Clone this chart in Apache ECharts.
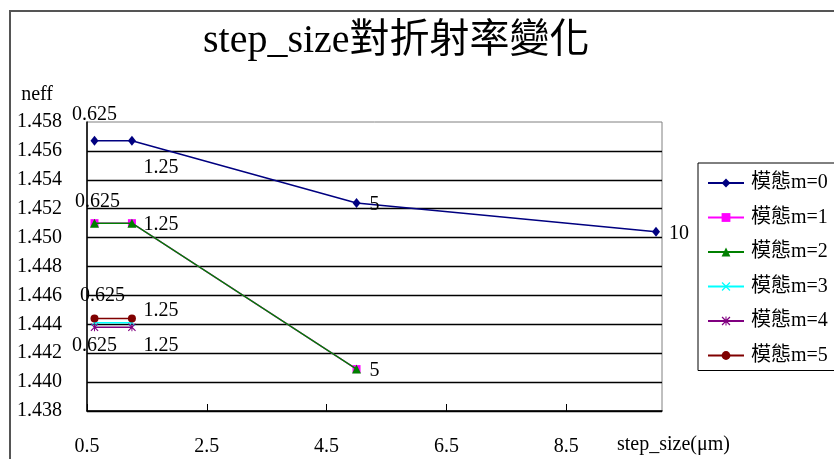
<!DOCTYPE html>
<html>
<head>
<meta charset="utf-8">
<script src="https://cdn.jsdelivr.net/npm/echarts@6/dist/echarts.min.js"></script>
<style>
  html, body { margin: 0; padding: 0; background: #fff; }
  #chart { width: 834px; height: 459px; }
</style>
</head>
<body>
<div id="chart"></div>
<script>
// step size (μm) sampled for each mode
const stepsM0 = [0.625, 1.25, 5, 10];
const stepsM1 = [0.625, 1.25, 5];
const stepsM2 = [0.625, 1.25, 5];
const stepsM3 = [0.625, 1.25];
const stepsM4 = [0.625, 1.25];
const stepsM5 = [0.625, 1.25];

// effective index for each mode
const neffM0 = [1.4567, 1.4567, 1.4524, 1.4504];
const neffM1 = [1.4510, 1.4510, 1.4409];
const neffM2 = [1.4510, 1.4510, 1.4409];
const neffM3 = [1.4441, 1.4441];
const neffM4 = [1.4438, 1.4438];
const neffM5 = [1.4444, 1.4444];

const modeNames = ['模態m=0', '模態m=1', '模態m=2', '模態m=3', '模態m=4', '模態m=5'];

// axis ticks
const xMin = 0.5, xMax = 10.1, xStep = 2;
const yMin = 1.438, yMax = 1.458, yStep = 0.002;

const titleText = 'step_size對折射率變化';
const xTitle = 'step_size(μm)';
const yTitle = 'neff';

const SERIF = '"Liberation Serif", "Times New Roman", "Noto Sans CJK TC", serif';

// X-shaped and asterisk markers
const xMark = 'path://M0,1 L1,0 L5,4 L9,0 L10,1 L6,5 L10,9 L9,10 L5,6 L1,10 L0,9 L4,5 Z';
const starMark = 'path://M0,1 L1,0 L5,4 L9,0 L10,1 L6,5 L10,9 L9,10 L5,6 L1,10 L0,9 L4,5 Z M4.4,0 L5.6,0 L5.6,10 L4.4,10 Z';

const modes = [
  { steps: stepsM0, neff: neffM0, color: '#000080', symbol: 'diamond', size: [8, 10] },
  { steps: stepsM1, neff: neffM1, color: '#ff00ff', symbol: 'rect', size: 8 },
  { steps: stepsM2, neff: neffM2, color: '#008000', symbol: 'triangle', size: 9 },
  { steps: stepsM3, neff: neffM3, color: '#00ffff', symbol: xMark, size: 7 },
  { steps: stepsM4, neff: neffM4, color: '#800080', symbol: starMark, size: 8 },
  { steps: stepsM5, neff: neffM5, color: '#800000', symbol: 'circle', size: 8 }
];

// where each step label sits relative to its point (null = no label)
const labelOffsets = [
  [[0, -26], [29, 27], [18, 2], [23, 2]],
  [[3, -21], [29, 2], [18, 2]],
  [null, null, null],
  [null, null],
  [[0, 19], [29, 19]],
  [[8, -23], [29, -8]]
];

const series = modes.map((m, si) => ({
  name: modeNames[si],
  type: 'line',
  symbol: m.symbol,
  symbolSize: m.size,
  showAllSymbol: true,
  color: m.color,
  lineStyle: { color: m.color, width: 1.5 },
  itemStyle: { color: m.color },
  emphasis: { disabled: true },
  z: 3 + si,
  data: m.steps.map((x, i) => {
    const off = labelOffsets[si][i];
    return {
      value: [x, m.neff[i]],
      label: off ? {
        show: true,
        position: 'inside',
        offset: off,
        formatter: String(x),
        color: '#000',
        fontFamily: SERIF,
        fontSize: 20
      } : { show: false }
    };
  })
}));

const chart = echarts.init(document.getElementById('chart'), null, { renderer: 'canvas' });

chart.setOption({
  animation: false,
  backgroundColor: '#fff',
  title: {
    text: titleText,
    left: 203,
    top: 21,
    padding: 0,
    textStyle: { fontFamily: SERIF, fontSize: 40, fontWeight: 'normal', color: '#000', lineHeight: 40 }
  },
  grid: {
    left: 87, right: 172, top: 122, bottom: 48,
    show: true, borderColor: '#808080', borderWidth: 1, backgroundColor: '#fff'
  },
  legend: {
    orient: 'vertical',
    left: 698,
    top: 163,
    padding: [10, 40, 5, 9],
    itemWidth: 36,
    itemHeight: 11,
    itemGap: 14.5,
    borderColor: '#000',
    borderWidth: 1,
    backgroundColor: '#fff',
    data: modeNames,
    textStyle: { fontFamily: SERIF, fontSize: 20, color: '#000', lineHeight: 20, padding: [0, 0, 0, 2] }
  },
  xAxis: {
    type: 'value',
    min: xMin,
    max: xMax,
    interval: xStep,
    name: xTitle,
    nameLocation: 'end',
    nameGap: -45,
    nameTextStyle: { fontFamily: SERIF, fontSize: 20, color: '#000', align: 'left', verticalAlign: 'top', padding: [24, 0, 0, 0] },
    axisLine: { show: true, onZero: false, lineStyle: { color: '#000', width: 1.5 } },
    axisTick: { show: true, inside: true, length: 7, lineStyle: { color: '#000' } },
    axisLabel: {
      margin: 26,
      showMaxLabel: false,
      fontFamily: SERIF, fontSize: 20, color: '#000',
      formatter: v => v.toFixed(1)
    },
    splitLine: { show: false }
  },
  yAxis: {
    type: 'value',
    min: yMin,
    max: yMax,
    interval: yStep,
    name: yTitle,
    nameLocation: 'end',
    nameGap: 17,
    nameTextStyle: { fontFamily: SERIF, fontSize: 20, color: '#000', align: 'right', verticalAlign: 'bottom', padding: [0, 34, 0, 0] },
    axisLine: { show: true, onZero: false, lineStyle: { color: '#000', width: 1.5 } },
    axisTick: { show: false },
    axisLabel: {
      margin: 25,
      fontFamily: SERIF, fontSize: 20, color: '#000',
      formatter: v => v.toFixed(3)
    },
    splitLine: { show: true, showMaxLine: false, lineStyle: { color: '#000', width: 1.3 } }
  },
  graphic: [
    {
      type: 'rect',
      silent: true,
      z: 100,
      shape: { x: 10, y: 11, width: 900, height: 600 },
      style: { fill: 'none', stroke: '#555', lineWidth: 2 }
    }
  ],
  series: series
});
</script>
</body>
</html>
